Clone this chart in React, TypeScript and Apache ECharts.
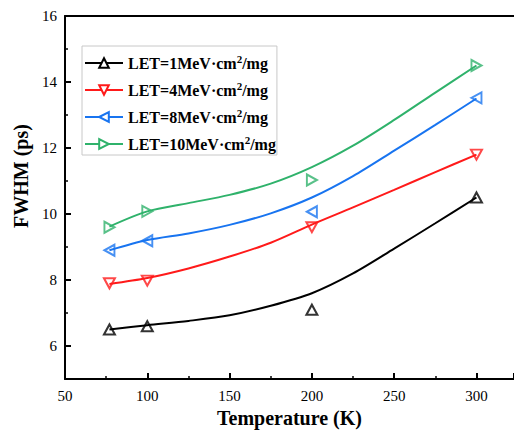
import React, { useEffect, useRef } from 'react';
import * as echarts from 'echarts';

const FONT = '"Liberation Serif", "Times New Roman", serif';

const seriesNames = [
  'LET=1MeV·cm²/mg',
  'LET=4MeV·cm²/mg',
  'LET=8MeV·cm²/mg',
  'LET=10MeV·cm²/mg',
];
const colors = ['#000000', '#ff1a1a', '#1874f0', '#2fb26b'];

// measured points
const temps = [77, 100, 200, 300];
const let1 = [6.5, 6.6, 7.1, 10.5];
const let4 = [7.9, 7.98, 9.6, 11.8];
const let8 = [8.9, 9.19, 10.07, 13.52];
const let10 = [9.6, 10.08, 11.03, 14.5];

// fitted curves
const fitT = [77, 100, 125, 150, 175, 200, 225, 250, 275, 300];
const fit1 = [6.5, 6.63, 6.76, 6.93, 7.22, 7.6, 8.2, 8.95, 9.72, 10.5];
const fit4 = [7.88, 8.06, 8.35, 8.71, 9.13, 9.68, 10.2, 10.73, 11.27, 11.8];
const fit8 = [8.9, 9.21, 9.41, 9.67, 10.02, 10.5, 11.15, 11.92, 12.7, 13.5];
const fit10 = [9.62, 10.08, 10.33, 10.58, 10.92, 11.42, 12.07, 12.85, 13.68, 14.5];

const yLabelTicks = [6, 8, 10, 12, 14, 16];
const yMinorTicks = [7, 9, 11, 13, 15];

const points = [let1, let4, let8, let10];
const fits = [fit1, fit4, fit8, fit10];
const symbols = [
  'path://M5,0 L10,9 L0,9 Z',
  'path://M0,0 L10,0 L5,9 Z',
  'path://M0,5 L9,0 L9,10 Z',
  'path://M0,0 L9,5 L0,10 Z',
];
const symbolSizes: any[] = [
  [11, 10],
  [11, 10],
  [10, 11],
  [10, 11],
];

export default function App() {
  const ref = useRef<HTMLDivElement>(null);
  useEffect(() => {
    document.body.style.margin = '0';
    const chart = echarts.init(ref.current!, null, { renderer: 'svg' });
    const series: any[] = [];
    seriesNames.forEach((name, i) => {
      series.push({
        type: 'line',
        name,
        data: fitT.map((t, j) => [t, fits[i][j]]),
        smooth: 0.3,
        showSymbol: false,
        symbol: symbols[i],
        symbolSize: symbolSizes[i],
        lineStyle: { color: colors[i], width: 2 },
        itemStyle: { color: '#ffffff', borderColor: colors[i], borderWidth: 2 },
        z: 2,
      });
    });
    seriesNames.forEach((_, i) => {
      series.push({
        type: 'scatter',
        data: temps.map((t, j) => [t, points[i][j]]),
        symbol: symbols[i],
        symbolSize: symbolSizes[i],
        itemStyle: { color: 'rgba(255,255,255,0)', borderColor: colors[i], borderWidth: 2 },
        z: 3,
      });
    });

    const axisLineStyle = { color: '#000', width: 2 };
    chart.setOption({
      animation: false,
      grid: { left: 65, top: 16, right: 0, bottom: 58, outerBoundsMode: 'none', containLabel: false },
      legend: {
        orient: 'vertical',
        left: 82,
        top: 46,
        padding: [7, 1, 1, 2],
        itemGap: 7,
        itemWidth: 38,
        itemHeight: 12,
        borderColor: '#c8c8c8',
        borderWidth: 1,
        data: seriesNames,
        formatter: (name: string) => {
          const parts = name.split('²');
          return `{a|${parts[0]}}{s|2}{a|${parts[1]}}`;
        },
        textStyle: {
          color: '#000',
          fontFamily: FONT,
          fontWeight: 'bold',
          fontSize: 16,
          rich: {
            a: { fontFamily: FONT, fontWeight: 'bold', fontSize: 16, color: '#000', lineHeight: 20 },
            s: {
              fontFamily: FONT,
              fontWeight: 'bold',
              fontSize: 11,
              color: '#000',
              lineHeight: 20,
              padding: [0, 0, 9, 0],
            },
          },
        },
      },
      xAxis: [
        {
          type: 'value',
          min: 50,
          max: 322.8,
          interval: 50,
          position: 'bottom',
          axisLine: { lineStyle: axisLineStyle },
          axisTick: { inside: true, length: 6, lineStyle: { color: '#000', width: 2 } },
          minorTick: { show: true, splitNumber: 2, length: 3, lineStyle: { color: '#000', width: 1.5 } },
          splitLine: { show: false },
          axisLabel: {
            fontFamily: FONT,
            fontSize: 15,
            color: '#000',
            margin: 9,
            showMaxLabel: false,
          },
          name: 'Temperature (K)',
          nameLocation: 'middle',
          nameGap: 27,
          nameTextStyle: { fontFamily: FONT, fontSize: 20, fontWeight: 'bold', color: '#000' },
        },
        {
          type: 'value',
          min: 50,
          max: 322.8,
          interval: 50,
          position: 'top',
          axisLine: { show: true, onZero: false, lineStyle: axisLineStyle },
          axisTick: { show: false },
          axisLabel: { show: false },
          splitLine: { show: false },
        },
      ],
      yAxis: [
        {
          type: 'value',
          min: 5,
          max: 16,
          interval: 1,
          position: 'left',
          axisLine: { show: true, onZero: false, lineStyle: axisLineStyle },
          axisTick: {
            inside: true,
            length: 6,
            customValues: yLabelTicks,
            lineStyle: { color: '#000', width: 2 },
          },
          axisLabel: {
            customValues: yLabelTicks,
            fontFamily: FONT,
            fontSize: 15,
            color: '#000',
            margin: 8,
          },
          splitLine: { show: false },
        },
        {
          type: 'value',
          min: 5,
          max: 16,
          interval: 1,
          position: 'left',
          axisLine: { show: false },
          axisTick: {
            inside: true,
            length: 3,
            customValues: yMinorTicks,
            lineStyle: { color: '#000', width: 1.5 },
          },
          axisLabel: { show: false },
          splitLine: { show: false },
        },
      ],
      graphic: [
        {
          type: 'text',
          x: 21,
          y: 176,
          rotation: Math.PI / 2,
          style: {
            text: 'FWHM (ps)',
            fontFamily: FONT,
            fontSize: 20,
            fontWeight: 'bold',
            fill: '#000',
            align: 'center',
            verticalAlign: 'middle',
          },
        },
      ],
      series,
    });
    return () => chart.dispose();
  }, []);
  return <div ref={ref} style={{ width: 514, height: 437 }} />;
}
